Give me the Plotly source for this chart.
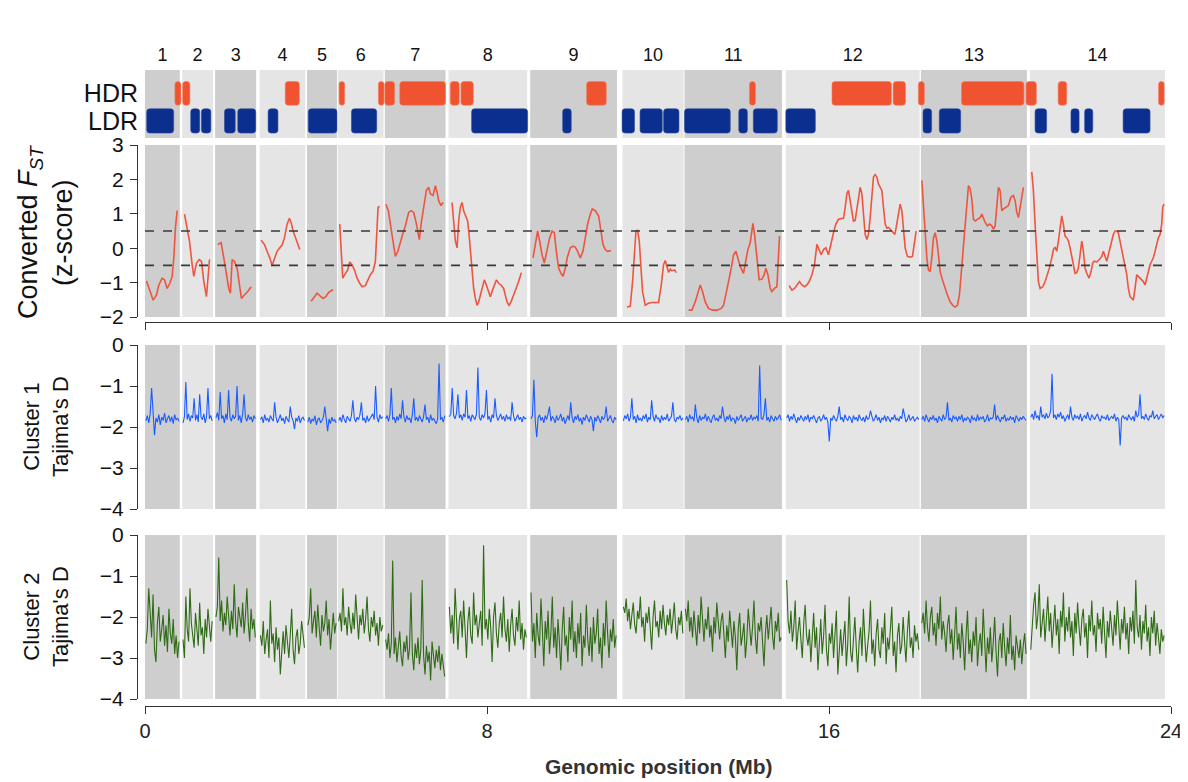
import numpy as np
import plotly.graph_objects as go

# ---------------- data ----------------
chrom_labels = [str(i) for i in range(1, 15)]
chrom_start = [0.0, 0.87, 1.64, 2.68, 3.79, 4.51, 5.61, 7.10, 9.01, 11.17, 12.62, 14.99, 18.15, 20.70]
chrom_end = [0.815, 1.59, 2.60, 3.75, 4.49, 5.58, 7.03, 8.94, 11.04, 12.60, 14.90, 18.12, 20.63, 23.86]

hdr_start = [0.70, 0.88, 3.28, 4.54, 5.46, 5.61, 5.96, 7.14, 7.39, 10.33, 14.14, 16.07, 17.50, 18.09, 19.10, 20.61, 21.36, 23.71]
hdr_end = [0.84, 1.05, 3.61, 4.67, 5.59, 5.84, 7.03, 7.35, 7.68, 10.79, 14.28, 17.46, 17.79, 18.23, 20.56, 20.85, 21.56, 23.84]
ldr_start = [0.04, 1.07, 1.32, 1.86, 2.17, 2.88, 3.82, 4.83, 7.64, 9.77, 11.16, 11.58, 12.13, 12.62, 13.89, 14.23, 14.99, 18.20, 18.58, 20.82, 21.66, 21.98, 22.88]
ldr_end = [0.67, 1.28, 1.54, 2.11, 2.59, 3.11, 4.49, 5.42, 8.95, 9.97, 11.45, 12.10, 12.49, 13.69, 14.09, 14.79, 15.68, 18.40, 19.08, 21.09, 21.85, 22.17, 23.51]

fst_thresholds = [-0.5, 0.5]

fst_pos = [
    [0.035, 0.113, 0.191, 0.269, 0.323, 0.401, 0.456, 0.518, 0.581, 0.635, 0.674, 0.713, 0.752],
    [0.924, 0.986, 1.04, 1.103, 1.142, 1.204, 1.266, 1.321, 1.376, 1.438, 1.508],
    [1.703, 1.781, 1.843, 1.906, 1.96, 1.999, 2.038, 2.093, 2.155, 2.21, 2.256, 2.326, 2.404, 2.482],
    [2.716, 2.794, 2.856, 2.919, 2.973, 3.028, 3.09, 3.152, 3.207, 3.262, 3.324, 3.379, 3.418, 3.464, 3.519, 3.573, 3.62],
    [3.885, 3.947, 4.025, 4.088, 4.166, 4.228, 4.298, 4.4],
    [4.555, 4.594, 4.626, 4.688, 4.742, 4.789, 4.844, 4.898, 4.961, 5.023, 5.078, 5.155, 5.21, 5.272, 5.335, 5.389, 5.428, 5.452, 5.491],
    [5.635, 5.693, 5.74, 5.798, 5.857, 5.915, 5.974, 6.037, 6.091, 6.168, 6.224, 6.285, 6.341, 6.388, 6.418, 6.458, 6.519, 6.582, 6.636, 6.675, 6.738, 6.792, 6.832, 6.869, 6.925, 6.972],
    [7.183, 7.22, 7.26, 7.3, 7.337, 7.377, 7.416, 7.454, 7.494, 7.547, 7.58, 7.611, 7.65, 7.688, 7.728, 7.767, 7.805, 7.844, 7.884, 7.938, 7.985, 8.031, 8.078, 8.118, 8.172, 8.219, 8.272, 8.328, 8.389, 8.429, 8.469, 8.515, 8.562, 8.623, 8.686, 8.74, 8.803],
    [9.077, 9.13, 9.184, 9.231, 9.287, 9.341, 9.404, 9.465, 9.521, 9.575, 9.621, 9.675, 9.731, 9.778, 9.832, 9.885, 9.948, 10.012, 10.065, 10.119, 10.182, 10.245, 10.299, 10.353, 10.416, 10.463, 10.533, 10.61, 10.666, 10.713, 10.767, 10.821, 10.9],
    [11.274, 11.351, 11.405, 11.452, 11.485, 11.522, 11.562, 11.602, 11.639, 11.702, 11.765, 11.843, 11.936, 12.013, 12.076, 12.13, 12.17, 12.21, 12.247, 12.287, 12.326, 12.387, 12.427],
    [12.715, 12.794, 12.871, 12.934, 12.988, 13.042, 13.105, 13.182, 13.276, 13.379, 13.479, 13.533, 13.589, 13.65, 13.713, 13.767, 13.823, 13.87, 13.924, 14.0, 14.057, 14.103, 14.157, 14.197, 14.22, 14.258, 14.314, 14.367, 14.431, 14.484, 14.524, 14.571, 14.625, 14.664, 14.725, 14.781, 14.842],
    [15.069, 15.132, 15.193, 15.249, 15.31, 15.366, 15.427, 15.483, 15.537, 15.6, 15.661, 15.717, 15.771, 15.817, 15.871, 15.927, 15.988, 16.051, 16.105, 16.161, 16.222, 16.285, 16.339, 16.379, 16.418, 16.456, 16.495, 16.535, 16.572, 16.612, 16.652, 16.689, 16.729, 16.769, 16.806, 16.846, 16.886, 16.923, 16.963, 17.003, 17.04, 17.08, 17.12, 17.157, 17.197, 17.236, 17.274, 17.314, 17.353, 17.391, 17.47, 17.54, 17.571, 17.625, 17.664, 17.704, 17.741, 17.781, 17.835, 17.898, 17.952, 17.992, 18.039],
    [18.172, 18.209, 18.249, 18.289, 18.326, 18.366, 18.405, 18.443, 18.483, 18.522, 18.56, 18.6, 18.653, 18.716, 18.77, 18.833, 18.896, 18.95, 19.004, 19.051, 19.091, 19.131, 19.177, 19.224, 19.262, 19.302, 19.341, 19.379, 19.419, 19.472, 19.535, 19.575, 19.612, 19.652, 19.706, 19.752, 19.809, 19.846, 19.886, 19.925, 19.963, 20.002, 20.042, 20.08, 20.143, 20.197, 20.253, 20.314, 20.354, 20.393, 20.431, 20.47, 20.51, 20.547],
    [20.743, 20.781, 20.821, 20.861, 20.898, 20.938, 21.001, 21.055, 21.108, 21.155, 21.211, 21.249, 21.288, 21.328, 21.366, 21.405, 21.445, 21.482, 21.522, 21.562, 21.6, 21.639, 21.679, 21.716, 21.756, 21.796, 21.833, 21.873, 21.913, 21.95, 21.99, 22.029, 22.083, 22.13, 22.17, 22.207, 22.263, 22.324, 22.38, 22.418, 22.457, 22.497, 22.535, 22.574, 22.614, 22.651, 22.691, 22.731, 22.768, 22.808, 22.848, 22.885, 22.925, 22.965, 23.002, 23.042, 23.082, 23.119, 23.159, 23.199, 23.236, 23.276, 23.316, 23.353, 23.393, 23.433, 23.47, 23.51, 23.549, 23.587, 23.627, 23.666, 23.704, 23.744, 23.783, 23.807, 23.837],
]
fst_val = [
    [-0.95, -1.26, -1.51, -1.36, -1.07, -0.87, -0.92, -1.17, -1.02, -0.82, -0.28, 0.60, 1.09],
    [0.99, 0.6, 0.21, -0.48, -0.82, -0.43, -0.33, -0.38, -0.97, -1.41, -0.33],
    [0.11, 0.16, -0.28, -0.77, -1.17, -1.31, -0.33, -0.38, -0.58, -1.07, -1.46, -1.36, -1.26, -1.12],
    [0.23, 0.11, -0.09, -0.28, -0.5, -0.28, -0.09, 0.01, 0.09, 0.3, 0.7, 0.87, 0.75, 0.5, 0.3, 0.16, -0.04],
    [-1.54, -1.44, -1.31, -1.38, -1.46, -1.41, -1.28, -1.2],
    [0.7, 0.01, -0.87, -0.73, -0.63, -0.4, -0.48, -0.63, -0.87, -1.02, -1.12, -1.09, -0.95, -0.77, -0.67, -0.38, 0.6, 1.19, 1.21],
    [1.28, 1.09, 0.7, 0.21, -0.24, -0.09, 0.21, 0.45, 0.65, 1.04, 1.09, 1.04, 0.75, 0.5, 0.25, 0.7, 1.24, 1.68, 1.77, 1.58, 1.53, 1.82, 1.63, 1.38, 1.24, 1.33],
    [1.33, 0.65, 0.21, 0.01, 0.79, 1.19, 1.33, 1.09, 0.94, 0.79, 0.4, -0.09, -0.58, -1.17, -1.46, -1.66, -1.56, -1.36, -1.17, -0.92, -1.07, -1.26, -1.41, -1.26, -1.07, -0.92, -1.02, -1.07, -1.17, -1.41, -1.56, -1.66, -1.56, -1.36, -1.17, -0.97, -0.71],
    [-0.28, 0.11, 0.5, 0.21, -0.19, -0.43, -0.09, 0.3, 0.5, 0.45, -0.09, -0.58, -0.73, -0.82, -0.58, -0.24, 0.01, 0.06, 0.03, -0.09, -0.28, -0.09, 0.3, 0.7, 0.99, 1.14, 1.09, 0.94, 0.5, 0.11, -0.04, -0.09, -0.07],
    [-1.71, -1.69, -0.97, -0.09, 0.5, 0.52, 0.21, -0.58, -1.26, -1.66, -1.61, -1.58, -1.58, -1.58, -1.07, -0.48, -0.36, -0.53, -0.7, -0.61, -0.66, -0.63, -0.71],
    [-1.8, -1.8, -1.56, -1.31, -1.07, -1.26, -1.56, -1.75, -1.8, -1.8, -1.75, -1.66, -1.36, -0.97, -0.58, -0.19, -0.09, -0.28, -0.53, -0.73, -0.38, -0.04, 0.16, 0.5, 0.72, 0.4, -0.28, -0.92, -0.9, -0.77, -0.58, -0.77, -1.17, -1.26, -1.17, -1.12, 0.35],
    [-1.09, -1.22, -1.17, -1.07, -0.97, -1.07, -1.12, -1.07, -0.97, -0.77, -0.48, 0.11, -0.04, -0.19, -0.04, 0.01, -0.19, 0.21, 0.45, 0.7, 0.84, 0.86, 0.87, 1.19, 1.58, 1.68, 1.38, 0.94, 0.79, 0.81, 1.19, 1.53, 1.77, 1.58, 0.89, 0.4, 0.25, 0.4, 0.89, 1.68, 2.07, 2.14, 2.07, 1.87, 1.77, 1.68, 1.19, 0.7, 0.58, 0.6, 0.5, 0.4, 0.6, 1.04, 1.28, 1.09, 0.6, 0.01, -0.24, -0.26, -0.24, 0.11, 0.5],
    [1.97, 1.19, 0.21, -0.28, -0.63, -0.68, -0.28, 0.3, 0.45, 0.21, -0.19, -0.68, -0.92, -1.17, -1.36, -1.56, -1.66, -1.71, -1.66, -1.36, -0.77, -0.09, 0.6, 1.28, 1.82, 1.73, 1.43, 0.84, 0.79, 0.84, 0.89, 0.99, 0.84, 0.75, 0.65, 0.7, 0.65, 0.55, 0.65, 1.19, 1.77, 1.68, 1.09, 1.14, 1.19, 1.24, 1.48, 1.53, 1.38, 1.04, 0.89, 1.19, 1.58, 1.77],
    [2.22, 1.68, 0.7, -0.28, -0.97, -1.17, -1.12, -0.97, -0.77, -0.58, -0.28, -0.04, 0.03, -0.09, 0.21, 0.6, 0.94, 0.7, 0.35, 0.3, 0.21, 0.01, -0.28, -0.53, -0.73, -0.71, -0.58, -0.19, 0.21, -0.09, -0.58, -0.73, -0.87, -0.68, -0.43, -0.38, -0.4, -0.33, -0.24, -0.09, -0.24, -0.38, -0.19, 0.01, 0.21, 0.4, 0.5, 0.5, 0.45, 0.21, -0.09, -0.28, -0.48, -0.77, -1.17, -1.41, -1.46, -1.51, -1.17, -0.77, -0.82, -0.87, -0.92, -0.97, -1.07, -0.87, -0.68, -0.48, -0.38, -0.28, -0.09, 0.11, 0.3, 0.4, 0.7, 1.19, 1.28],
]

# Tajima's D per chromosome, in hundredths of (negative) D: 180 means D = -1.80
taj1_cent = [
    [185, 172, 190, 168, 105, 182, 220, 178, 188, 170, 195, 176, 184, 166, 190, 180, 172, 187, 175, 192, 170, 183, 178, 186],
    [190, 175, 90, 182, 168, 186, 172, 178, 130, 184, 170, 188, 120, 176, 182, 168, 190, 174, 105, 180, 172, 185],
    [178, 165, 184, 115, 180, 172, 190, 168, 182, 110, 176, 186, 170, 180, 174, 100, 184, 172, 190, 168, 120, 178, 186, 170, 182, 175, 188, 172, 180],
    [182, 175, 190, 170, 184, 178, 188, 172, 180, 186, 140, 176, 190, 182, 170, 185, 178, 192, 174, 182, 188, 150, 176, 184, 205, 178, 186, 172, 190, 180, 176, 184],
    [188, 176, 192, 180, 186, 172, 195, 182, 178, 190, 184, 176, 150, 188, 210, 180, 192, 176, 186, 182, 190],
    [184, 176, 188, 170, 182, 190, 174, 180, 186, 172, 135, 178, 188, 176, 182, 170, 140, 184, 178, 190, 172, 186, 180, 174, 168, 182, 100, 176, 188, 170, 180, 175],
    [180, 172, 186, 170, 105, 182, 176, 190, 174, 184, 168, 180, 135, 176, 188, 172, 182, 178, 190, 170, 130, 184, 176, 186, 172, 180, 188, 174, 145, 182, 176, 190, 170, 184, 178, 186, 192, 180, 45, 182, 176, 188, 172],
    [175, 168, 105, 172, 180, 166, 120, 178, 170, 184, 168, 176, 110, 180, 172, 186, 170, 178, 182, 168, 55, 176, 184, 170, 178, 166, 110, 182, 174, 188, 170, 178, 130, 172, 184, 176, 168, 182, 174, 186, 170, 180, 176, 184, 140, 172, 186, 178, 170, 182, 176, 188, 174, 180, 178],
    [180, 172, 85, 186, 225, 178, 170, 184, 176, 190, 172, 182, 168, 150, 186, 174, 180, 190, 172, 184, 178, 168, 186, 176, 192, 180, 172, 184, 140, 178, 190, 174, 182, 170, 186, 178, 194, 176, 184, 170, 180, 188, 174, 182, 210, 176, 186, 172, 180, 190, 174, 182, 176, 150, 186, 178, 172, 184, 190, 176, 182],
    [185, 172, 180, 168, 186, 176, 130, 182, 174, 190, 170, 184, 178, 186, 172, 180, 168, 188, 176, 182, 135, 174, 186, 170, 180, 178, 190, 172, 184, 176, 182, 168, 186, 178, 174, 140, 182, 188, 176, 180, 172, 184, 178],
    [182, 174, 188, 170, 180, 176, 186, 145, 178, 190, 172, 184, 176, 180, 168, 186, 174, 182, 190, 176, 170, 184, 178, 186, 172, 180, 150, 176, 188, 174, 182, 170, 186, 178, 180, 192, 174, 184, 176, 170, 186, 180, 174, 188, 178, 182, 170, 184, 176, 180, 172, 186, 50, 178, 182, 170, 130, 184, 176, 188, 172, 180, 186, 174, 182, 178, 170, 184],
    [178, 170, 186, 174, 182, 168, 180, 190, 176, 184, 172, 180, 186, 174, 182, 170, 188, 176, 180, 172, 184, 190, 178, 174, 186, 180, 170, 182, 176, 188, 235, 178, 184, 172, 180, 186, 174, 150, 182, 176, 188, 170, 180, 184, 174, 178, 190, 172, 182, 176, 186, 170, 180, 184, 176, 188, 172, 182, 178, 160, 174, 186, 180, 170, 184, 176, 190, 178, 182, 172, 186, 174, 180, 188, 176, 182, 170, 184, 178, 186, 174, 180, 155, 176, 188, 182, 170, 184, 178, 174, 186, 180, 176, 182],
    [182, 174, 186, 170, 180, 188, 176, 182, 172, 184, 178, 190, 174, 180, 186, 170, 182, 176, 140, 184, 178, 188, 172, 180, 176, 186, 174, 182, 170, 188, 178, 184, 176, 180, 190, 172, 182, 178, 186, 170, 184, 176, 180, 174, 188, 182, 170, 186, 178, 180, 176, 145, 184, 172, 182, 188, 176, 180, 170, 186, 178, 184, 174, 182, 176, 190, 172, 180, 186, 176, 182, 174, 178, 184],
    [176, 168, 182, 160, 178, 172, 184, 150, 176, 170, 180, 166, 178, 174, 160, 70, 178, 170, 182, 168, 176, 164, 180, 172, 186, 176, 170, 182, 150, 176, 184, 170, 178, 174, 182, 168, 186, 176, 172, 180, 164, 178, 184, 170, 176, 182, 174, 168, 180, 186, 172, 178, 176, 182, 170, 184, 178, 174, 180, 168, 186, 176, 182, 245, 178, 172, 180, 176, 184, 170, 178, 182, 174, 186, 160, 176, 170, 120, 180, 174, 182, 168, 178, 184, 172, 176, 160, 180, 174, 170, 182, 176, 168, 178, 172],
]

taj2_cent = [
    [265, 230, 130, 200, 250, 145, 280, 310, 215, 175, 260, 230, 195, 270, 220, 285, 180, 240, 265, 205, 290, 245, 300, 260],
    [255, 300, 150, 230, 260, 130, 215, 240, 275, 190, 235, 270, 165, 245, 225, 290, 205, 250, 180, 230, 260, 210],
    [200, 175, 55, 210, 160, 235, 190, 220, 150, 205, 245, 185, 230, 120, 210, 250, 175, 200, 225, 165, 240, 195, 130, 215, 260, 180, 230, 205, 250],
    [245, 270, 210, 290, 255, 230, 300, 160, 265, 240, 310, 225, 280, 250, 340, 270, 235, 290, 220, 260, 300, 245, 180, 280, 315, 250, 230, 290, 265, 210, 250, 275],
    [220, 200, 130, 240, 210, 185, 250, 170, 225, 270, 195, 235, 215, 160, 245, 205, 280, 225, 190, 240, 215],
    [210, 190, 235, 130, 220, 200, 245, 175, 215, 240, 190, 230, 145, 210, 255, 195, 220, 180, 240, 205, 150, 230, 260, 200, 225, 185, 245, 215, 270, 200, 235, 220],
    [255, 280, 240, 300, 265, 62, 290, 250, 310, 270, 235, 295, 320, 260, 285, 245, 305, 275, 140, 290, 330, 265, 300, 250, 315, 280, 110, 295, 340, 270, 310, 285, 355, 260, 300, 325, 280, 310, 270, 330, 290, 320, 345],
    [175, 240, 195, 265, 130, 220, 280, 205, 185, 250, 160, 230, 300, 210, 175, 245, 265, 140, 220, 195, 250, 215, 185, 270, 25, 230, 205, 255, 180, 225, 310, 200, 165, 240, 275, 215, 190, 250, 150, 230, 260, 205, 285, 220, 180, 245, 270, 200, 235, 160, 255, 215, 280, 230, 250],
    [140, 260, 215, 300, 190, 245, 270, 155, 230, 320, 210, 255, 185, 290, 240, 150, 275, 225, 300, 205, 260, 330, 230, 175, 270, 245, 310, 200, 255, 160, 285, 235, 300, 215, 265, 190, 320, 245, 275, 170, 255, 295, 225, 310, 200, 265, 240, 180, 290, 250, 325, 215, 270, 160, 240, 300, 230, 260, 205, 275, 245],
    [175, 190, 155, 210, 180, 230, 195, 165, 220, 240, 185, 205, 150, 225, 200, 260, 190, 215, 175, 235, 280, 200, 160, 225, 210, 250, 185, 230, 170, 215, 245, 195, 220, 180, 240, 205, 165, 230, 255, 200, 220, 185, 240],
    [180, 210, 160, 235, 200, 250, 185, 225, 270, 195, 240, 150, 215, 260, 205, 230, 175, 250, 220, 285, 200, 240, 165, 225, 255, 210, 190, 245, 300, 220, 260, 185, 235, 275, 210, 250, 330, 230, 190, 270, 245, 215, 300, 255, 180, 240, 270, 225, 160, 250, 290, 215, 235, 200, 265, 320, 240, 195, 255, 220, 175, 245, 280, 210, 235, 190, 260, 250],
    [110, 210, 240, 185, 260, 225, 160, 280, 235, 200, 255, 300, 215, 170, 245, 270, 230, 310, 250, 190, 275, 225, 330, 260, 205, 290, 245, 170, 280, 320, 240, 265, 215, 300, 250, 185, 340, 270, 230, 295, 255, 210, 320, 265, 150, 285, 310, 245, 200, 275, 335, 260, 225, 295, 180, 250, 310, 270, 235, 160, 290, 255, 320, 240, 205, 280, 300, 225, 265, 190, 315, 250, 280, 230, 175, 295, 260, 335, 245, 215, 290, 270, 200, 260, 310, 235, 185, 275, 250, 300, 220, 260, 240, 280],
    [215, 190, 240, 160, 225, 260, 200, 175, 245, 215, 270, 190, 230, 150, 255, 210, 240, 285, 220, 195, 265, 230, 305, 250, 175, 280, 240, 300, 215, 260, 330, 245, 185, 290, 255, 310, 235, 270, 200, 320, 265, 240, 295, 180, 275, 335, 250, 290, 225, 310, 265, 200, 285, 345, 260, 240, 300, 215, 275, 320, 250, 290, 195, 305, 270, 330, 245, 280, 300, 255, 315, 270, 240, 290],
    [280, 210, 170, 140, 230, 195, 120, 250, 205, 180, 260, 215, 150, 235, 190, 275, 220, 170, 245, 205, 290, 185, 225, 140, 260, 200, 235, 175, 250, 210, 295, 190, 240, 165, 225, 270, 205, 180, 250, 215, 300, 195, 235, 160, 245, 220, 285, 190, 230, 205, 265, 175, 240, 300, 210, 250, 185, 230, 270, 195, 245, 160, 220, 280, 205, 240, 175, 255, 215, 290, 200, 235, 185, 265, 110, 225, 250, 195, 280, 210, 240, 170, 260, 225, 295, 200, 240, 185, 270, 215, 250, 290, 230, 260, 245],
]

x_ticks = [0, 8, 16, 24]

# ---------------- styling ----------------
OFF = 8                      # page body margin of the browser
W, H = 1188 - OFF, 782 - OFF
FONT = "Liberation Sans, Arial, sans-serif"
DARK, LIGHT = "#cecece", "#e5e5e5"
RED, BLUE, GREEN = "#ee5540", "#1b5cff", "#2f6b16"
HDR_C, LDR_C = "#f0532f", "#0b2f8f"


def px_x(p):
    return (p - OFF) / W


def px_y(p):
    return 1 - (p - OFF) / H


xdom = [px_x(145), px_x(1171)]
ax_pos = px_x(137)


def joined(pos_lists, val_lists):
    xs, ys = [], []
    for p, v in zip(pos_lists, val_lists):
        xs += list(p) + [None]
        ys += list(v) + [None]
    return xs, ys


def windows(val_lists):
    pos = []
    for s, e, v in zip(chrom_start, chrom_end, val_lists):
        pos.append(list(np.linspace(s + 0.02, e - 0.02, len(v))))
    return pos


taj1_val = [[-c / 100 for c in ch] for ch in taj1_cent]
taj2_val = [[-c / 100 for c in ch] for ch in taj2_cent]

fig = go.Figure()

fx, fy = joined(fst_pos, fst_val)
fig.add_trace(go.Scatter(x=fx, y=fy, mode="lines", line=dict(color=RED, width=1.6),
                         xaxis="x", yaxis="y", showlegend=False))
t1x, t1y = joined(windows(taj1_val), taj1_val)
fig.add_trace(go.Scatter(x=t1x, y=t1y, mode="lines", line=dict(color=BLUE, width=1.1),
                         xaxis="x2", yaxis="y2", showlegend=False))
t2x, t2y = joined(windows(taj2_val), taj2_val)
fig.add_trace(go.Scatter(x=t2x, y=t2y, mode="lines", line=dict(color=GREEN, width=1.1),
                         xaxis="x3", yaxis="y3", showlegend=False))

fig.add_trace(go.Bar(orientation="h", base=hdr_start,
                     x=[e - s for s, e in zip(hdr_start, hdr_end)],
                     y=[1] * len(hdr_start), width=0.86,
                     marker=dict(color=HDR_C, line=dict(color="#f47a60", width=0.6)),
                     xaxis="x4", yaxis="y4", showlegend=False))
fig.add_trace(go.Bar(orientation="h", base=ldr_start,
                     x=[e - s for s, e in zip(ldr_start, ldr_end)],
                     y=[0] * len(ldr_start), width=0.88,
                     marker=dict(color=LDR_C, line=dict(color="#2a4aa0", width=0.6)),
                     xaxis="x4", yaxis="y4", showlegend=False))

shapes = []
for i, (s, e) in enumerate(zip(chrom_start, chrom_end)):
    col = DARK if i % 2 == 0 else LIGHT
    for yr, xr in [("y domain", "x"), ("y2 domain", "x2"), ("y3 domain", "x3"), ("y4 domain", "x4")]:
        shapes.append(dict(type="rect", xref=xr, yref=yr, x0=s, x1=e, y0=0, y1=1,
                           fillcolor=col, line=dict(width=0), layer="below"))
for t in fst_thresholds:
    shapes.append(dict(type="line", xref="x", yref="y", x0=x_ticks[0], x1=x_ticks[-1], y0=t, y1=t,
                       line=dict(color="#3a3a3a", width=1.6, dash="dash"), layer="above"))

tickfont = dict(family=FONT, size=21, color="#111")
yaxis_common = dict(anchor="free", position=ax_pos, showline=True, linecolor="#333", linewidth=1.2,
                    ticks="outside", ticklen=7, tickwidth=1.2, tickcolor="#333", automargin=False,
                    showgrid=False, zeroline=False, tickfont=tickfont, ticklabelstandoff=2)

chrom_centers = [(s + e) / 2 for s, e in zip(chrom_start, chrom_end)]

fig.update_layout(
    width=W, height=H, margin=dict(l=0, r=0, t=0, b=0, autoexpand=False),
    paper_bgcolor="white", plot_bgcolor="white",
    barmode="overlay", barcornerradius=3,
    shapes=shapes,
    xaxis=dict(domain=xdom, range=[0, 24], anchor="free", position=px_y(322), showline=True,
               linecolor="#333", linewidth=1.2, ticks="outside", ticklen=7, tickwidth=1.2,
               tickcolor="#333", tickvals=x_ticks, showticklabels=False, showgrid=False,
               zeroline=False, automargin=False),
    yaxis=dict(domain=[px_y(317), px_y(145)], range=[-2, 3], tickvals=[-2, -1, 0, 1, 2, 3], **yaxis_common),
    xaxis2=dict(domain=xdom, range=[0, 24], anchor="y2", visible=False, automargin=False),
    yaxis2=dict(domain=[px_y(509), px_y(345)], range=[-4, 0], tickvals=[-4, -3, -2, -1, 0], **yaxis_common),
    xaxis3=dict(domain=xdom, range=[0, 24], anchor="free", position=px_y(706), showline=True,
                linecolor="#333", linewidth=1.2, ticks="outside", ticklen=7, tickwidth=1.2,
                tickcolor="#333", tickvals=x_ticks, tickfont=dict(family=FONT, size=20, color="#222"),
                showgrid=False, zeroline=False, ticklabelstandoff=0, automargin=False),
    yaxis3=dict(domain=[px_y(699), px_y(535)], range=[-4, 0], tickvals=[-4, -3, -2, -1, 0], **yaxis_common),
    xaxis4=dict(domain=xdom, range=[0, 24], anchor="y4", side="top", tickvals=chrom_centers,
                ticktext=chrom_labels, ticks="", showline=False, showgrid=False, zeroline=False,
                tickfont=dict(family=FONT, size=18, color="#111"), ticklabelstandoff=4,
                automargin=False),
    yaxis4=dict(domain=[px_y(138), px_y(70)], range=[-0.62, 1.85], anchor="x4", tickvals=[0, 1],
                ticktext=["LDR", "HDR"], ticks="", showline=False, showgrid=False, zeroline=False,
                tickfont=dict(family=FONT, size=25, color="#111"), ticklabelstandoff=6,
                automargin=False),
    font=dict(family=FONT),
)

annos = [
    dict(text="Converted <i>F</i><sub><i>ST</i></sub><br>(z-score)", x=px_x(46), y=px_y(232),
         textangle=-90, font=dict(size=27, color="#111")),
    dict(text="Cluster 1<br>Tajima's D", x=px_x(46), y=px_y(427), textangle=-90,
         font=dict(size=22, color="#111")),
    dict(text="Cluster 2<br>Tajima's D", x=px_x(46), y=px_y(617), textangle=-90,
         font=dict(size=22, color="#111")),
    dict(text="<b>Genomic position (Mb)</b>", x=px_x(658), y=px_y(766),
         font=dict(size=21, color="#333")),
]
for a in annos:
    a.update(xref="paper", yref="paper", showarrow=False, xanchor="center", yanchor="middle")
    a["font"]["family"] = FONT
fig.update_layout(annotations=annos)

fig.write_html("out.html")
